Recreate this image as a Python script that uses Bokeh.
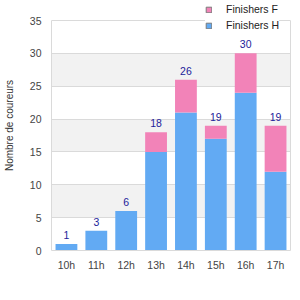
from bokeh.plotting import figure
from bokeh.models import (ColumnDataSource, FixedTicker, LabelSet, Legend,
                          LegendItem, LinearAxis)
from bokeh.core.properties import value
from bokeh.embed import file_html
from bokeh.resources import INLINE

hours = ["10h", "11h", "12h", "13h", "14h", "15h", "16h", "17h"]
finishers_h = [1, 3, 6, 15, 21, 17, 24, 12]
finishers_f = [0, 0, 0, 3, 5, 2, 6, 7]
totals = [h + f for h, f in zip(finishers_h, finishers_f)]
y_ticks = [0, 5, 10, 15, 20, 25, 30, 35]

FONT = "Liberation Sans"
GRID = "#dadada"
BLUE = "#62aaf3"
PINK = "#f283b8"
Y_MAX = 35
# frame extends to the top of the canvas so the legend can sit above the 35 line
Y_TOP = Y_MAX * 250 / 230

src = ColumnDataSource(dict(hour=hours, H=finishers_h, F=finishers_f,
                            total=totals, total_lbl=[str(t) for t in totals]))

p = figure(x_range=hours, y_range=(0, Y_TOP), width=300, height=300,
           output_backend="svg", toolbar_location=None,
           min_border_left=50, min_border_right=10, min_border_top=0,
           min_border_bottom=50)

r = p.vbar_stack(["H", "F"], x="hour", width=0.73, source=src,
                 color=[BLUE, PINK], line_color=None)

# hidden renderers used only for the legend swatches (with a grey border)
leg_f = p.vbar(x="hour", top="F", width=0.73, source=src, visible=False,
               fill_color=PINK, line_color="#7a7a7a", line_width=1)
leg_h = p.vbar(x="hour", top="H", width=0.73, source=src, visible=False,
               fill_color=BLUE, line_color="#7a7a7a", line_width=1)

labels = LabelSet(x="hour", y="total", text="total_lbl", source=src,
                  text_align="center", text_baseline="alphabetic", y_offset=5,
                  text_color="#22229a", text_font=value(FONT),
                  text_font_size="10.5px")
p.add_layout(labels)

p.xgrid.visible = False
# 35 repeated so that the strip above the last line stays unshaded
p.ygrid.ticker = FixedTicker(ticks=y_ticks + [Y_MAX])
p.ygrid.grid_line_color = GRID
p.ygrid.band_fill_color = "#f2f2f2"
p.ygrid.band_fill_alpha = 1.0

p.yaxis.ticker = FixedTicker(ticks=y_ticks)
p.yaxis.bounds = (0, Y_MAX)
for ax in (p.xaxis[0], p.yaxis[0]):
    ax.axis_line_color = GRID
    ax.major_tick_line_color = None
    ax.minor_tick_line_color = None
    ax.major_tick_out = 0
    ax.major_tick_in = 0
    ax.minor_tick_out = 0
    ax.major_label_text_font = FONT
    ax.major_label_text_font_size = "10.5px"
    ax.major_label_text_color = "#444444"
p.yaxis.major_label_standoff = 10
p.xaxis.major_label_standoff = 8
p.yaxis.axis_label = "Nombre de coureurs"
p.yaxis.axis_label_text_font = FONT
p.yaxis.axis_label_text_font_size = "10px"
p.yaxis.axis_label_text_font_style = "normal"
p.yaxis.axis_label_text_color = "#333333"
p.yaxis.axis_label_standoff = 12

# right frame border drawn as a bare axis line, limited to the value range
right = LinearAxis(ticker=FixedTicker(ticks=[]), bounds=(0, Y_MAX),
                   axis_line_color=GRID, major_tick_line_color=None,
                   minor_tick_line_color=None, major_tick_out=0,
                   major_tick_in=0, major_label_text_font_size="0px")
p.add_layout(right, "right")

p.outline_line_color = None
p.background_fill_color = "white"
p.border_fill_color = "white"

legend = Legend(items=[LegendItem(label="Finishers F", renderers=[leg_f]),
                       LegendItem(label="Finishers H", renderers=[leg_h])],
                location=(154, 219), orientation="vertical",
                glyph_width=7, glyph_height=7, label_height=12,
                spacing=4, padding=5, margin=0, label_standoff=14,
                label_text_font=FONT, label_text_font_size="10.5px",
                label_text_color="#222222",
                border_line_color=None, background_fill_color="white",
                background_fill_alpha=1.0)
p.add_layout(legend, "center")

open("out.html", "w").write(file_html(p, INLINE))
